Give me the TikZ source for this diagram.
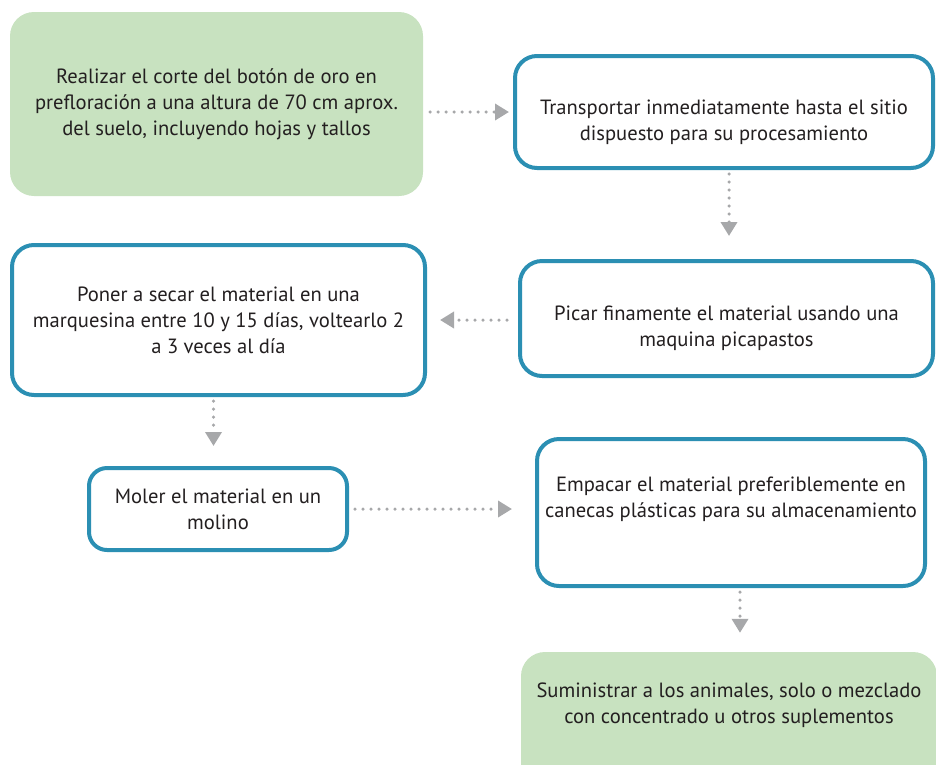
\documentclass[tikz,border=0pt]{standalone}
\usepackage{fontspec}
\setmainfont{PT Sans}
\usetikzlibrary{arrows.meta}
\definecolor{boxblue}{RGB}{43,143,179}
\definecolor{boxgreen}{RGB}{200,226,192}
\definecolor{flowgray}{RGB}{167,168,170}
\definecolor{inkgray}{RGB}{35,31,32}
\tikzset{
  stepbox/.style={draw=boxblue, line width=4pt, fill=white, rounded corners=22pt,
    align=center, text=inkgray, inner sep=0pt,
    font=\fontsize{20.6}{26}\selectfont},
  greenbox/.style={fill=boxgreen, rounded corners=24pt, align=center,
    text=inkgray, inner sep=0pt, font=\fontsize{20.6}{26}\selectfont},
  flow/.style={flowgray, line width=3.5pt, line cap=round,
    dash pattern=on 0pt off 8pt,
    -{Triangle[length=14pt, width=16pt, line cap=butt]}},
}

\begin{document}
\begin{tikzpicture}[x=1pt, y=-1pt]
  \useasboundingbox (0,0) rectangle (936,764);
  \clip (0,0) rectangle (936,764);
  % Cutting
  \node[greenbox, minimum width=413pt, minimum height=184pt]
    (cut) at (216.5,104) {Realizar el corte del botón de oro en\\
    prefloración a una altura de 70 cm aprox.\\
    del suelo, incluyendo hojas y tallos};
  % Transport
  \node[stepbox, minimum width=418pt, minimum height=112pt, text height=61pt]
    (transport) at (724,112) {Transportar inmediatamente hasta el sitio\\
    dispuesto para su procesamiento};
  % Chopping
  \node[stepbox, minimum width=413pt, minimum height=115pt, text height=61pt]
    (chop) at (726.5,318.5) {Picar finamente el material usando una\\
    maquina picapastos};
  % Drying
  \node[stepbox, minimum width=413pt, minimum height=150pt]
    (dry) at (218.5,320) {Poner a secar el material en una\\
    marquesina entre 10 y 15 días, voltearlo 2\\
    a 3 veces al día};
  % Grinding
  \node[stepbox, rounded corners=18pt, minimum width=258pt, minimum height=82pt]
    (grind) at (218,509) {Moler el material en un\\ molino};
  % Packing
  \node[stepbox, minimum width=388pt, minimum height=147pt, text depth=31pt]
    (pack) at (731,512.5) {Empacar el material preferiblemente en\\
    canecas plásticas para su almacenamiento};
  % Feeding
  \node[greenbox, minimum width=416pt, minimum height=140pt, text depth=37pt]
    (supply) at (729,722) {Suministrar a los animales, solo o mezclado\\
    con concentrado u otros suplementos};
  % Flow arrows
  \draw[flow, shorten <=7pt, shorten >=4pt]
    (cut.east |- transport.west) -- (transport.west);
  \draw[flow, shorten <=4pt, shorten >=23pt]
    ([xshift=5pt]transport.south) -- ([xshift=5pt]transport.south |- chop.north);
  \draw[flow, shorten <=11pt, shorten >=13pt]
    (chop.west |- dry.east) -- (dry.east);
  \draw[flow, shorten <=4pt, shorten >=20pt]
    ([xshift=-5pt]dry.south) -- ([xshift=-5pt]dry.south |- grind.north);
  \draw[flow, shorten <=6pt, shorten >=23pt]
    (grind.east) -- (grind.east -| pack.west);
  \draw[flow, shorten <=4pt, shorten >=19pt]
    ([xshift=9pt]pack.south) -- ([xshift=9pt]pack.south |- supply.north);
\end{tikzpicture}
\end{document}
